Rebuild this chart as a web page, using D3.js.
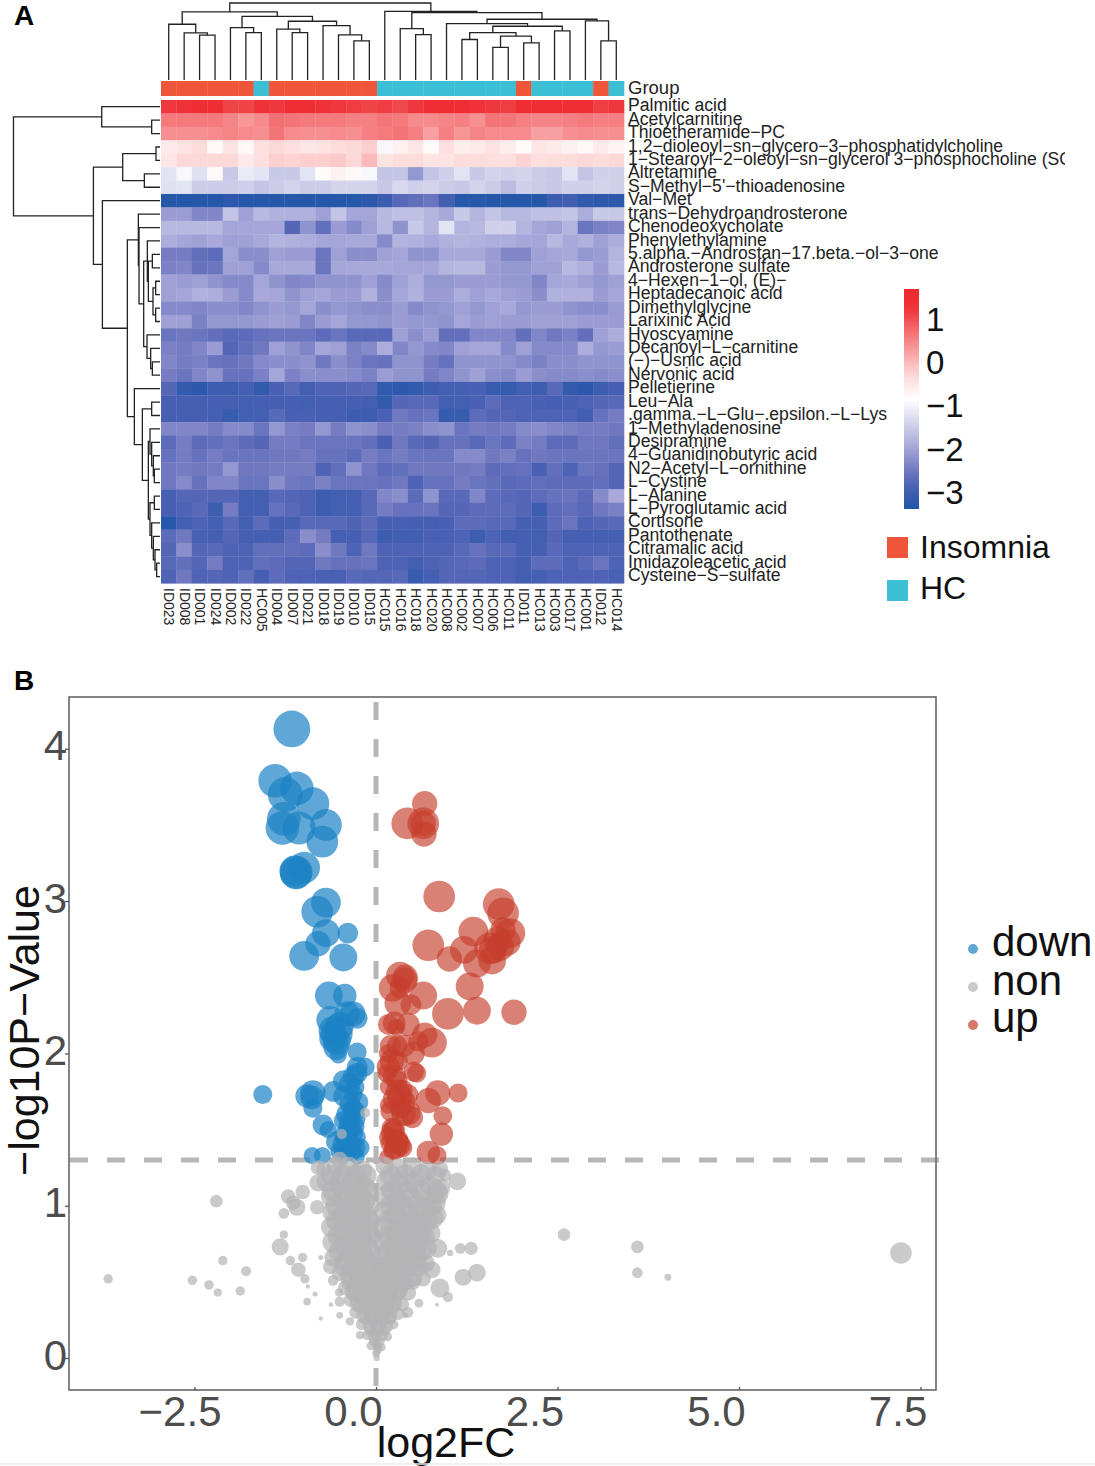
<!DOCTYPE html>
<html>
<head>
<meta charset="utf-8">
<script src="https://cdn.jsdelivr.net/npm/d3@7"></script>
<style>
  body { margin: 0; background: #fff; }
  text { font-family: "Liberation Sans", Arial, sans-serif; }
</style>
</head>
<body>
<script>
// panel A
var samples = ["ID023","ID008","ID001","ID024","ID002","ID022","HC005","ID004","ID007","ID021","ID018","ID019","ID010","ID015","HC015","HC016","HC018","HC020","HC008","HC002","HC007","HC006","HC011","ID011","HC013","HC003","HC017","HC001","ID012","HC014"];
var metabolites = ["Palmitic acid","Acetylcarnitine","Thioetheramide−PC","1,2−dioleoyl−sn−glycero−3−phosphatidylcholine","1−Stearoyl−2−oleoyl−sn−glycerol 3−phosphocholine (SOPC)","Altretamine","S−Methyl−5'−thioadenosine","Val−Met","trans−Dehydroandrosterone","Chenodeoxycholate","Phenylethylamine","5.alpha.−Androstan−17.beta.−ol−3−one","Androsterone sulfate","4−Hexen−1−ol, (E)−","Heptadecanoic acid","Dimethylglycine","Larixinic Acid","Hyoscyamine","Decanoyl−L−carnitine","(−)−Usnic acid","Nervonic acid","Pelletierine","Leu−Ala",".gamma.−L−Glu−.epsilon.−L−Lys","1−Methyladenosine","Desipramine","4−Guanidinobutyric acid","N2−Acetyl−L−ornithine","L−Cystine","L−Alanine","L−Pyroglutamic acid","Cortisone","Pantothenate","Citramalic acid","Imidazoleacetic acid","Cysteine−S−sulfate"];
var heatValues = [
[1.2,1.25,1.35,1.35,1.1,1.1,1.25,1.2,1.3,1.3,1.25,1.2,1.15,1.1,1.15,1.05,1.2,1.4,1.4,1.35,1.25,1.2,1.15,1.35,1.35,1.3,1.3,1.3,1.15,1.2],
[.6,.6,.6,.6,.5,.35,.45,.7,.65,.6,.6,.6,.55,.55,.65,.6,.45,.45,.5,.55,.4,.65,.65,.55,.5,.5,.55,.6,.55,.55],
[.4,.4,.4,.45,.5,.45,.4,.65,.45,.4,.4,.45,.4,.55,.6,.65,.55,.25,.55,.35,.5,.45,.45,.45,.25,.25,.4,.45,.4,.4],
[-.55,-.45,-.35,-.75,-.45,-.75,-.4,-.3,-.4,-.5,-.45,-.35,-.3,-.2,-.95,-.65,-.5,-.8,-.4,-.6,-.55,-.45,-.6,-.8,-.5,-.55,-.65,-.75,-.55,-.7],
[-.5,-.3,-.3,-.3,-.3,-.55,-.4,-.2,-.25,-.2,-.2,-.15,-.3,0,-.45,-.35,-.35,-.45,-.45,-.35,-.35,-.4,-.4,-.25,-.4,-.35,-.35,-.3,-.35,-.3],
[-1.2,-.95,-1.25,-.75,-1.55,-1.1,-1.2,-1.55,-1.55,-1.2,-.8,-.65,-.75,-.95,-1.6,-1.6,-2.15,-1.6,-1.45,-1.2,-1.55,-1.4,-1.45,-1.4,-1.5,-1.55,-1.2,-1.6,-1.45,-1.45],
[-1.25,-1.2,-1.5,-1.5,-1.5,-1.45,-1.6,-1.5,-1.4,-1.5,-1.5,-1.4,-1.4,-1.4,-1.55,-1.35,-1.45,-1.4,-1.5,-1.55,-1.4,-1.5,-1.7,-1.45,-1.5,-1.55,-1.45,-1.45,-1.4,-1.45],
[-3.3,-3.3,-3.3,-3.3,-3.25,-3.3,-3.3,-3.3,-3.3,-3.3,-3.3,-3.3,-3.3,-3.25,-3.05,-2.75,-2.65,-2.55,-3.0,-3.3,-3.3,-3.3,-3.3,-3.3,-3.3,-3.05,-3.0,-3.2,-3.25,-3.25],
[-2.1,-2.1,-2.35,-2.35,-1.6,-2.05,-1.75,-1.85,-1.85,-1.85,-2.05,-1.6,-2.0,-2.0,-1.75,-1.65,-1.65,-1.8,-1.95,-1.55,-1.8,-1.6,-1.75,-1.75,-1.65,-1.65,-1.6,-1.9,-1.55,-1.55],
[-1.75,-1.75,-1.75,-1.75,-2.0,-2.0,-2.0,-2.0,-2.8,-2.2,-2.65,-2.1,-2.3,-2.05,-1.75,-2.2,-1.55,-1.8,-1.2,-1.8,-1.75,-1.45,-1.45,-1.8,-2.0,-2.05,-1.8,-2.55,-2.4,-2.35],
[-1.9,-2.0,-2.05,-1.95,-2.05,-2.05,-1.95,-1.8,-1.85,-1.9,-2.0,-2.0,-1.95,-1.95,-2.3,-1.8,-1.85,-1.95,-1.85,-1.8,-1.85,-1.9,-1.9,-2.0,-2.0,-1.75,-1.95,-1.85,-2.05,-1.9],
[-2.45,-2.45,-2.65,-2.7,-2.0,-2.25,-2.25,-2.05,-2.1,-2.1,-2.55,-2.05,-2.25,-2.25,-2.05,-2.0,-2.2,-2.2,-1.95,-1.95,-1.95,-2.1,-2.35,-2.35,-2.05,-2.0,-1.95,-2.15,-2.1,-1.8],
[-2.4,-2.35,-2.6,-2.55,-2.05,-2.05,-2.3,-1.95,-1.95,-1.95,-2.55,-2.0,-1.95,-1.95,-1.95,-2.0,-2.0,-2.0,-1.8,-1.75,-1.75,-2.1,-2.15,-2.15,-2.05,-2.05,-1.75,-1.85,-2.1,-1.75],
[-2.05,-2.1,-2.05,-2.2,-2.3,-2.3,-2.0,-2.2,-2.35,-2.3,-2.2,-2.2,-2.2,-2.05,-2.3,-2.05,-1.9,-2.15,-2.15,-2.1,-2.1,-2.1,-2.15,-2.15,-2.35,-2.0,-1.95,-2.05,-2.15,-2.05],
[-2.05,-2.0,-1.85,-1.9,-2.1,-2.3,-1.95,-2.0,-2.2,-2.05,-2.0,-2.1,-2.1,-1.85,-2.25,-2.0,-1.85,-2.1,-2.1,-1.9,-2.05,-1.95,-2.05,-2.1,-2.25,-1.85,-1.85,-1.85,-2.1,-2.0],
[-2.3,-2.3,-2.35,-2.25,-2.25,-2.35,-2.2,-2.1,-2.15,-2.0,-2.25,-2.15,-2.2,-2.25,-2.25,-2.1,-2.3,-2.2,-2.15,-2.05,-2.15,-2.05,-1.95,-2.15,-2.1,-2.1,-2.2,-2.25,-2.25,-2.1],
[-2.05,-2.05,-2.4,-2.15,-2.15,-2.15,-2.1,-2.05,-2.1,-2.35,-2.1,-2.0,-2.15,-2.15,-2.2,-2.1,-2.15,-2.15,-2.2,-2.0,-2.1,-2.05,-2.1,-2.1,-2.05,-2.05,-2.05,-2.1,-2.1,-2.1],
[-2.55,-2.5,-2.55,-2.65,-2.75,-2.7,-2.6,-2.55,-2.55,-2.55,-2.7,-2.55,-2.75,-2.75,-2.75,-2.05,-2.25,-2.1,-2.65,-2.65,-2.35,-2.35,-2.35,-2.65,-2.35,-2.5,-2.4,-2.65,-2.05,-1.9],
[-2.4,-2.45,-2.35,-2.1,-2.8,-2.65,-2.5,-2.05,-2.2,-2.35,-2.0,-2.05,-2.4,-2.3,-1.9,-2.35,-2.15,-2.3,-2.35,-2.05,-2.0,-2.0,-2.3,-2.05,-2.3,-2.3,-2.3,-1.9,-2.15,-2.1],
[-2.35,-2.45,-2.4,-2.55,-2.6,-2.5,-2.3,-2.25,-2.25,-2.2,-2.5,-2.25,-2.4,-2.55,-2.6,-2.2,-2.2,-2.45,-2.6,-2.2,-2.2,-2.2,-2.2,-2.3,-2.4,-2.25,-2.25,-2.2,-2.2,-2.2],
[-2.45,-2.55,-2.35,-2.2,-2.6,-2.6,-2.4,-2.0,-2.4,-2.25,-2.25,-2.25,-2.3,-2.4,-2.1,-2.2,-2.2,-2.45,-2.35,-2.2,-2.05,-2.25,-2.3,-2.1,-2.25,-2.3,-2.3,-2.25,-2.3,-2.25],
[-2.8,-3.2,-3.25,-3.05,-3.05,-2.95,-3.2,-2.9,-2.75,-3.0,-2.85,-2.85,-2.8,-2.75,-3.2,-3.25,-3.2,-3.05,-3.0,-2.95,-2.9,-3.1,-3.15,-3.0,-3.05,-2.75,-3.2,-3.25,-3.05,-2.95],
[-2.95,-2.95,-2.95,-2.95,-2.95,-3.0,-2.95,-2.95,-2.95,-3.0,-2.95,-2.95,-2.95,-3.0,-3.2,-2.8,-2.75,-2.75,-3.0,-3.0,-2.9,-2.7,-2.85,-2.85,-2.9,-2.95,-2.9,-2.85,-2.8,-2.75],
[-2.95,-2.95,-2.95,-2.95,-3.1,-3.0,-3.0,-2.75,-2.9,-2.9,-2.95,-2.95,-3.05,-3.05,-2.9,-2.5,-2.6,-2.55,-3.15,-3.1,-2.7,-2.8,-2.8,-2.85,-2.85,-2.85,-2.85,-3.0,-2.6,-2.45],
[-2.35,-2.35,-2.35,-2.45,-2.3,-2.3,-2.55,-2.15,-2.4,-2.45,-2.15,-2.45,-2.2,-2.25,-2.45,-2.45,-2.4,-2.25,-2.2,-2.55,-2.45,-2.5,-2.45,-2.3,-2.25,-2.35,-2.4,-2.45,-2.45,-2.5],
[-2.7,-2.45,-2.7,-2.65,-2.55,-2.7,-2.8,-2.45,-2.45,-2.55,-2.55,-2.55,-2.55,-2.65,-2.9,-2.5,-2.75,-2.8,-2.6,-2.6,-2.75,-2.55,-2.7,-2.4,-2.45,-2.7,-2.7,-2.5,-2.5,-2.65],
[-2.6,-2.45,-2.6,-2.45,-2.55,-2.55,-2.55,-2.5,-2.5,-2.45,-2.6,-2.6,-2.7,-2.45,-2.55,-2.45,-2.55,-2.55,-2.55,-2.3,-2.3,-2.5,-2.4,-2.6,-2.5,-2.55,-2.55,-2.55,-2.55,-2.55],
[-2.5,-2.45,-2.5,-2.45,-2.15,-2.5,-2.5,-2.45,-2.45,-2.45,-2.85,-2.65,-2.2,-2.5,-2.7,-2.65,-2.5,-2.5,-2.5,-2.5,-2.45,-2.7,-2.65,-2.6,-2.9,-2.65,-2.85,-2.55,-2.6,-2.8],
[-2.5,-2.3,-2.6,-2.35,-2.35,-2.55,-2.55,-2.25,-2.5,-2.55,-2.4,-2.55,-2.55,-2.55,-2.6,-2.5,-2.85,-2.6,-2.6,-2.45,-2.55,-2.65,-2.75,-2.7,-2.65,-2.7,-2.7,-2.7,-2.65,-2.8],
[-2.95,-2.8,-2.8,-2.8,-2.8,-3.0,-3.0,-2.75,-2.8,-2.85,-3.05,-3.0,-2.95,-2.75,-2.35,-2.25,-2.7,-2.2,-2.75,-2.75,-2.35,-2.7,-2.75,-2.8,-2.7,-2.6,-2.55,-2.7,-2.3,-1.95],
[-2.95,-2.85,-2.75,-3.05,-2.45,-3.0,-3.0,-2.6,-2.75,-2.85,-3.05,-3.0,-3.0,-2.75,-2.45,-2.6,-2.6,-2.55,-2.8,-2.8,-2.7,-2.7,-2.7,-2.8,-3.05,-2.7,-2.65,-2.75,-2.5,-2.4],
[-3.3,-3.0,-2.85,-3.0,-2.75,-3.0,-2.7,-2.95,-2.95,-2.75,-2.75,-2.75,-2.85,-2.7,-2.95,-2.9,-2.95,-2.95,-2.9,-2.7,-2.7,-2.75,-2.75,-2.95,-2.95,-2.7,-2.55,-2.85,-2.8,-2.75],
[-2.7,-2.5,-2.9,-2.95,-2.8,-2.95,-2.95,-2.95,-2.7,-2.25,-2.45,-2.95,-2.95,-2.75,-3.05,-3.0,-3.0,-2.9,-2.9,-2.85,-3.05,-2.85,-3.0,-2.95,-3.0,-2.8,-2.95,-2.95,-2.95,-2.95],
[-2.8,-2.25,-2.8,-2.75,-2.85,-2.85,-2.65,-2.65,-2.65,-2.7,-2.25,-2.5,-2.85,-2.5,-2.85,-2.85,-2.85,-2.85,-2.85,-2.75,-2.6,-2.75,-2.75,-2.95,-2.95,-2.75,-2.85,-2.85,-2.85,-2.85],
[-2.75,-2.65,-2.8,-2.45,-2.85,-2.85,-2.65,-2.7,-2.8,-2.8,-2.5,-2.6,-2.6,-2.55,-2.85,-2.85,-3.0,-2.85,-2.8,-2.75,-2.7,-2.85,-2.85,-2.95,-2.7,-2.7,-2.85,-2.75,-2.55,-2.85],
[-2.85,-2.5,-2.85,-2.8,-2.85,-2.65,-2.95,-2.7,-2.85,-2.85,-2.9,-2.9,-2.75,-2.8,-2.8,-2.75,-3.15,-2.95,-2.8,-2.8,-2.8,-2.85,-2.85,-3.0,-2.95,-2.85,-2.85,-2.85,-2.85,-2.9]
];
var colorTicks = [1, 0, -1, -2, -3];
var groupNames = ["Insomnia", "HC"];

// dendrograms: [merge height, left, right], a plain number is a leaf index
var colTree = [232,
  [205, [168, 0, [142, 1, [135, 2, 3]]],
        [192, [158, 4, [143, 5, 6]],
              [177, [153, 7, [143, 8, 9]],
                    [164, 10, [136, 11, [118, 12, 13]]]]]],
  [207, 14,
        [203, [155, 15, [137, 16, 17]],
              [183, [170, 18,
                      [162, [143, [122, 19, 20], [132, [98, 21, 22], [112, 23, 24]]],
                            [148, 25, 26]]],
                    [178, 27, [118, 28, 29]]]]]];
var rowTree = [440,
  [175, 0, [25, 1, 2]],
  [200, [112, [12, 3, 4], [47, 5, 6]],
        [173, 7,
          [98, [65, 8, [63, 9, [49, [38, 10, [35, [23, 11, 12], [21, [13, 13, 14], [13, 15, 16]]]],
                                    [39, 17, [28, 18, [23, 19, 20]]]]]],
                [77, 21, [53, [25, 22, 23],
                              [35, [30, 24, [25, 25, [20, 26, [17, 27, 28]]]],
                                   [30, [17, 29, 30], [25, 31, [20, 32, [15, 33, [10, 34, 35]]]]]]]]]]]];

// panel B, each gene is [log2FC, -log10P, VIP]
var downGenes = [[-1.16,4.13,2.9],[-1.39,3.79,2.65],[-1.09,3.74,2.65],[-1.25,3.70,2.75],[-.87,3.64,2.6],[-1.27,3.54,2.65],[-.69,3.50,2.5],[-1.29,3.48,2.65],[-1.06,3.48,2.6],[-.74,3.39,2.5],[-.99,3.22,2.5],[-1.10,3.19,2.6],[-1.10,3.18,2.5],[-1.12,3.20,2.4],[-.69,2.99,2.35],[-.81,2.93,2.5],[-.69,2.79,2.2],[-.39,2.79,1.65],[-.80,2.72,2.0],[-.99,2.64,2.35],[-.45,2.63,2.2],[-1.56,1.73,1.5],[-.65,2.38,2.2],[-.43,2.38,1.85],[-.63,2.22,2.2],[-.32,2.26,2.0],[-.26,2.23,1.65],[-.40,2.26,2.0],[-.50,2.18,2.2],[-.54,2.13,2.5],[-.59,2.10,2.2],[-.54,2.08,2.2],[-.26,2.01,1.5],[-.52,1.99,1.35],[-.15,1.91,1.5],[-.26,1.91,1.65],[-.26,1.87,1.65],[-.45,1.82,1.65],[-.29,1.78,1.5],[-.59,1.75,1.65],[-.87,1.74,2.0],[-.88,1.71,1.85],[-.87,1.64,1.5],[-.25,1.68,1.65],[-.36,1.67,1.65],[-.32,1.63,1.6],[-.29,1.57,1.65],[-.36,1.56,1.65],[-.29,1.52,1.5],[-.36,1.50,1.65],[-.73,1.53,1.65],[-.66,1.50,1.35],[-.45,1.41,1.65],[-.29,1.38,1.65],[-.22,1.38,1.5],[-.40,1.35,1.5],[-.88,1.33,1.35],[-.74,1.33,1.35],[-.26,1.32,1.2],[-.43,1.46,1.65],[-.50,1.36,1.5],[-.45,1.56,1.5],[-.32,1.73,1.5],
[-.30,1.62,1.7],[-.40,1.6,1.7],[-.33,1.48,1.7],[-.40,1.45,1.7],[-.28,1.45,1.6],[-.36,1.40,1.7],[-.45,1.36,1.5],[-.33,1.36,1.6],[-.38,1.52,1.6],[-.55,2.04,2.0],[-.60,2.15,2.2],[-.44,1.72,1.7],[-.36,1.80,1.7],[-.31,1.85,1.7],[-.95,1.72,1.85],[-.55,1.42,1.6]];
var upGenes = [[.67,3.64,2.0],[.43,3.51,2.5],[.65,3.51,2.5],[.65,3.51,2.0],[.66,3.44,2.0],[.87,3.03,2.5],[1.69,2.98,2.5],[1.75,2.92,2.5],[1.34,2.80,2.35],[.72,2.71,2.5],[1.21,2.68,2.2],[1.01,2.62,2.0],[1.39,2.59,2.2],[1.85,2.79,2.35],[1.75,2.81,2.0],[1.67,2.74,2.2],[1.61,2.68,2.2],[1.57,2.69,2.5],[1.60,2.61,2.2],[1.80,2.73,2.2],[1.71,2.70,2.2],[.33,2.51,2.2],[.40,2.50,2.0],[1.29,2.44,2.2],[.23,2.43,2.2],[.40,2.48,2.0],[.33,2.43,1.65],[.65,2.38,2.2],[.99,2.26,2.5],[1.39,2.28,2.2],[1.90,2.27,2.0],[.48,2.32,1.65],[.17,2.19,1.65],[.44,2.19,1.85],[.28,2.17,1.35],[.67,2.12,2.0],[.77,2.07,2.35],[.29,2.05,1.65],[.17,2.0,1.5],[.51,2.0,1.85],[.17,1.91,1.85],[.15,1.87,1.5],[.56,1.87,1.5],[.29,1.82,1.65],[.17,1.78,1.35],[.33,1.71,2.0],[.44,1.73,1.65],[.85,1.74,2.0],[1.13,1.74,1.5],[.72,1.69,2.0],[.17,1.66,1.35],[.44,1.61,2.0],[.92,1.59,1.5],[.90,1.47,1.85],[.22,1.51,1.65],[.23,1.48,1.85],[.29,1.42,1.85],[.19,1.41,1.5],[.37,1.38,1.5],[.23,1.36,1.5],[.15,1.32,1.2],[.72,1.35,1.85],[.84,1.33,1.5],[.33,1.64,1.65],[.36,1.76,1.65],[.30,1.43,1.65],
[.25,1.85,1.8],[.30,1.75,1.9],[.25,1.7,1.8],[.2,1.62,1.6],[.38,1.68,1.9],[.22,1.95,1.9],[.30,1.95,1.6],[.38,2.05,1.8],[.52,1.88,1.6],[.27,1.38,1.8],[.33,1.40,1.7],[.25,1.50,1.7],[.18,1.45,1.6],[.58,2.08,1.6],[.3,2.33,2.1],[.2,2.05,1.7],[.25,2.2,1.8],[.38,1.6,1.9],[.5,1.58,1.7]];
var nonGenes = [
[-2.20,1.03,1],[-1.21,1.06,1.15],[-1.01,1.09,1.15],[-1.14,1.02,1.15],[-1.09,.99,1.35],[-.81,.99,1.15],[-1.27,.95,.85],[-1.27,.81,.65],[-1.32,.73,1.35],[-2.11,.64,.75],[-1.79,.57,.8],[-3.69,.52,.75],[-2.53,.51,.75],[-2.30,.48,.75],[-2.18,.43,.65],[-1.87,.44,.75],[-1.18,.64,.75],[-1.01,.66,.75],[-.76,.66,.4],[-1.07,.58,1.15],[-.98,.52,.75],[-.94,.47,.35],[-.84,.42,.4],[-.95,.37,.6],[-.62,.35,.35],[-.76,.26,.35],[-.50,.28,.55],[-.59,.51,.85],[-.63,.60,1.15],[-.51,.43,.65],[-.50,.37,.8],[-.36,.24,.65],[-.22,.15,.65],
[.85,.72,1.5],[1.02,.69,.5],[1.16,.72,.85],[1.31,.72,1.05],[1.20,.53,1.35],[1.39,.56,1.4],[.88,.46,1.5],[.99,.40,.8],[.59,.36,.7],[.84,.35,.3],[.44,.30,.85],[.40,.28,.45],[1.12,1.16,1.4],[.95,1.20,1.0],[.85,1.08,1.7],[.84,.94,1.5],[.77,.58,1.35],[2.59,.81,1.0],[3.60,.73,1.0],[3.60,.56,.85],[4.02,.53,.55],[7.23,.69,1.7],[-.80,1.25,1.15],[-.80,1.15,1.35],[-.15,1.61,.8],[-.47,1.47,.8],[-.50,1.30,1.3],
[-.72,1.24,1.2],[-.55,1.26,1.5],[-.38,1.25,1.7],[-.2,1.23,1.7],[.12,1.26,1.5],[.3,1.24,1.7],[.5,1.25,1.6],[.7,1.23,1.5],[.88,1.24,1.3],
[-.68,1.16,1.6],[-.5,1.14,1.7],[-.33,1.15,1.7],[-.17,1.13,1.7],[.15,1.16,1.7],[.33,1.14,1.7],[.52,1.15,1.7],[.75,1.13,1.6],[.9,1.12,1.4],
[-.62,1.06,1.6],[-.45,1.04,1.7],[-.3,1.05,1.7],[-.16,1.03,1.7],[.13,1.06,1.7],[.3,1.04,1.7],[.48,1.05,1.7],[.68,1.03,1.7],[.82,1.02,1.6],
[-.6,.96,1.6],[-.45,.94,1.7],[-.28,.95,1.7],[-.13,.93,1.7],[.12,.96,1.7],[.28,.94,1.7],[.45,.95,1.7],[.62,.93,1.7],[.78,.92,1.7],
[-.62,.86,1.6],[-.46,.84,1.7],[-.3,.85,1.7],[-.14,.83,1.7],[.1,.86,1.7],[.26,.84,1.7],[.42,.85,1.7],[.6,.83,1.7],[.75,.82,1.6],
[-.6,.76,1.6],[-.44,.74,1.7],[-.28,.75,1.7],[-.12,.73,1.7],[.1,.76,1.7],[.24,.74,1.7],[.4,.75,1.7],[.56,.73,1.7],[.7,.72,1.6],
[-.58,.66,1.5],[-.42,.64,1.7],[-.27,.65,1.7],[-.12,.63,1.7],[.09,.66,1.7],[.23,.64,1.7],[.38,.65,1.7],[.54,.63,1.7],[.68,.62,1.5],
[-.5,.56,1.3],[-.36,.54,1.6],[-.23,.55,1.7],[-.1,.53,1.7],[.06,.56,1.7],[.2,.54,1.7],[.33,.55,1.7],[.5,.53,1.6],[.65,.52,1.2],
[-.42,.46,1.2],[-.3,.44,1.5],[-.18,.45,1.7],[-.06,.43,1.7],[.06,.46,1.7],[.17,.44,1.7],[.3,.45,1.6],[.44,.43,1.3],
[-.35,.38,1.1],[-.24,.36,1.4],[-.12,.37,1.6],[0,.38,1.7],[.12,.36,1.6],[.24,.37,1.4],[.36,.35,1.1],
[-.28,.30,1.0],[-.16,.28,1.3],[-.05,.29,1.5],[.07,.30,1.5],[.18,.28,1.3],[.3,.29,1.0],
[-.2,.22,.9],[-.08,.21,1.2],[.03,.22,1.3],[.14,.21,1.1],[.24,.22,.8],
[-.12,.15,.8],[-.02,.14,1.0],[.08,.15,1.0],[.16,.14,.7],
[-.07,.08,.7],[.02,.08,.8],[.08,.07,.6],[0,.03,.6],
[-.62,1.2,1.6],[-.45,1.2,1.7],[-.28,1.2,1.7],[-.14,1.2,1.7],[.2,1.2,1.7],[.4,1.2,1.7],[.62,1.2,1.7],[.82,1.2,1.5],
[-.6,1.1,1.7],[-.42,1.1,1.7],[-.25,1.1,1.7],[-.12,1.1,1.7],[.22,1.1,1.7],[.42,1.1,1.7],[.62,1.1,1.7],[.84,1.1,1.6],
[-.55,1.0,1.7],[-.38,1.0,1.7],[-.22,1.0,1.7],[-.1,1.0,1.7],[.2,1.0,1.7],[.38,1.0,1.7],[.58,1.0,1.7],[.76,1.0,1.7],
[-.54,.9,1.7],[-.38,.9,1.7],[-.22,.9,1.7],[-.1,.9,1.7],[.18,.9,1.7],[.35,.9,1.7],[.52,.9,1.7],[.7,.9,1.7],
[-.52,.8,1.7],[-.36,.8,1.7],[-.2,.8,1.7],[-.08,.8,1.7],[.17,.8,1.7],[.32,.8,1.7],[.5,.8,1.7],[.66,.8,1.7],
[-.5,.7,1.7],[-.35,.7,1.7],[-.2,.7,1.7],[-.08,.7,1.7],[.16,.7,1.7],[.3,.7,1.7],[.46,.7,1.7],[.62,.7,1.7],
[-.44,.6,1.6],[-.3,.6,1.7],[-.17,.6,1.7],[-.06,.6,1.7],[.13,.6,1.7],[.27,.6,1.7],[.42,.6,1.7],[.58,.6,1.6],
[-.36,.5,1.4],[-.24,.5,1.6],[-.12,.5,1.7],[0,.5,1.7],[.11,.5,1.7],[.24,.5,1.7],[.37,.5,1.6],[.5,.5,1.3],
[-.3,.42,1.2],[-.18,.42,1.5],[-.06,.42,1.7],[.06,.42,1.7],[.18,.42,1.5],[.3,.42,1.2],
[-.22,.34,1.1],[-.1,.34,1.4],[.02,.34,1.6],[.13,.34,1.4],[.24,.34,1.1],
[-.14,.26,1.0],[-.03,.26,1.3],[.08,.26,1.3],[.19,.26,1.0],
[-.08,.18,.9],[.02,.18,1.1],[.12,.18,.9],
[-.03,.11,.8],[.05,.11,.8],[.02,.05,.7],[.01,0,.5]
];
var xTicks = [-2.5, 0, 2.5, 5, 7.5];
var yTicks = [0, 1, 2, 3, 4];
var volcanoGroups = ["down", "non", "up"];

var svg = d3.select("body").append("svg")
  .attr("width", 1095)
  .attr("height", 1466)
  .style("display", "block");

svg.append("text").attr("x", 14).attr("y", 25).attr("font-size", 28).attr("font-weight", "bold").text("A");
svg.append("text").attr("x", 14).attr("y", 690).attr("font-size", 28).attr("font-weight", "bold").text("B");

// heatmap
var heatColor = d3.scaleLinear()
  .domain([-3.4, -2.9, -2.5, -2, -0.85, -0.3, 0.3, 1.3, 1.7])
  .range(["#2056A8", "#4A60B4", "#7078C0", "#A4A5D8", "#ffffff", "#FDD8D8", "#F79A9C", "#EE2E32", "#EE2A2E"]);
var groupColor = d3.scaleOrdinal().domain(groupNames).range(["#EF5539", "#3BBFD5"]);

var xBand = d3.scaleBand().domain(d3.range(samples.length)).range([161, 624]);
var yBand = d3.scaleBand().domain(d3.range(metabolites.length)).range([100, 583.3]);

var blur = svg.append("filter").attr("id", "soft");
blur.append("feGaussianBlur").attr("stdDeviation", 0.5);

var rows = svg.append("g").attr("filter", "url(#soft)").selectAll("g")
  .data(heatValues)
  .join("g");
rows.selectAll("rect")
  .data(function(row, i) { return row.map(function(v, j) { return {i: i, j: j, v: v}; }); })
  .join("rect")
  .attr("x", function(d) { return xBand(d.j); })
  .attr("y", function(d) { return yBand(d.i); })
  .attr("width", xBand.bandwidth() + 0.3)
  .attr("height", yBand.bandwidth() + 0.3)
  .attr("fill", function(d) { return heatColor(d.v); });

// group strip
svg.append("g").selectAll("rect")
  .data(samples)
  .join("rect")
  .attr("x", function(d, i) { return xBand(i); })
  .attr("y", 81)
  .attr("width", xBand.bandwidth() + 0.3)
  .attr("height", 15)
  .attr("fill", function(d) { return groupColor(d.slice(0, 2) == "ID" ? "Insomnia" : "HC"); });

svg.append("text").attr("x", 628).attr("y", 93.5).attr("font-size", 18.5).attr("fill", "#222").text("Group");

svg.append("clipPath").attr("id", "labelClip").append("rect")
  .attr("x", 620).attr("y", 90).attr("width", 445).attr("height", 500);
svg.append("g").attr("clip-path", "url(#labelClip)").selectAll("text")
  .data(metabolites)
  .join("text")
  .attr("x", 628)
  .attr("y", function(d, i) { return yBand(i) + yBand.bandwidth() / 2 + 4.6; })
  .attr("font-size", 17.6)
  .attr("fill", "#222")
  .text(function(d) { return d; });

svg.append("g").selectAll("text")
  .data(samples)
  .join("text")
  .attr("transform", function(d, i) {
    return "translate(" + (xBand(i) + xBand.bandwidth() / 2 - 4.5) + ",588) rotate(90)";
  })
  .attr("font-size", 14)
  .attr("fill", "#222")
  .text(function(d) { return d; });

// dendrograms
function layoutTree(tree) {
  var root = d3.hierarchy(tree, function(d) { return Array.isArray(d) ? d.slice(1) : null; });
  root.eachAfter(function(n) {
    if (n.children) {
      n.pos = d3.mean(n.children, function(c) { return c.pos; });
      n.h = n.data[0];
    } else {
      n.pos = n.data + 0.5;
      n.h = 0;
    }
  });
  return root;
}

var colHeight = d3.scaleLinear().domain([0, 232]).range([80, 3]);
var rowHeight = d3.scaleLinear().domain([0, 440]).range([160, 13.5]);
var colPos = function(p) { return 161 + p * xBand.step(); };
var rowPos = function(p) { return 100 + p * yBand.step(); };
var link = d3.line();

var colNodes = layoutTree(colTree).descendants().filter(function(n) { return n.children; });
svg.append("g").selectAll("path")
  .data(colNodes)
  .join("path")
  .attr("fill", "none")
  .attr("stroke", "#222")
  .attr("stroke-width", 1.3)
  .attr("d", function(n) {
    var a = n.children[0], b = n.children[1];
    return link([[colPos(a.pos), colHeight(a.h)], [colPos(a.pos), colHeight(n.h)], [colPos(b.pos), colHeight(n.h)], [colPos(b.pos), colHeight(b.h)]]);
  });

var rowNodes = layoutTree(rowTree).descendants().filter(function(n) { return n.children; });
svg.append("g").selectAll("path")
  .data(rowNodes)
  .join("path")
  .attr("fill", "none")
  .attr("stroke", "#222")
  .attr("stroke-width", 1.3)
  .attr("d", function(n) {
    var a = n.children[0], b = n.children[1];
    return link([[rowHeight(a.h), rowPos(a.pos)], [rowHeight(n.h), rowPos(a.pos)], [rowHeight(n.h), rowPos(b.pos)], [rowHeight(b.h), rowPos(b.pos)]]);
  });

// colour bar
var barY = d3.scaleLinear().domain([1.7, -3.4]).range([289, 509]);
var barGrad = svg.append("defs").append("linearGradient")
  .attr("id", "barGrad").attr("x1", 0).attr("x2", 0).attr("y1", 0).attr("y2", 1);
barGrad.selectAll("stop")
  .data(d3.range(0, 1.001, 0.05))
  .join("stop")
  .attr("offset", function(d) { return d; })
  .attr("stop-color", function(d) { return heatColor(1.7 - d * 5.1); });
svg.append("rect").attr("x", 904).attr("y", 289).attr("width", 15).attr("height", 220).attr("fill", "url(#barGrad)");
svg.append("g").selectAll("text")
  .data(colorTicks)
  .join("text")
  .attr("x", 926)
  .attr("y", function(d) { return barY(d) + 12; })
  .attr("font-size", 33)
  .attr("fill", "#111")
  .text(function(d) { return d3.format("d")(d); });

// group legend
svg.append("g").selectAll("rect")
  .data(groupNames)
  .join("rect")
  .attr("x", 887)
  .attr("y", function(d, i) { return 537 + i * 43; })
  .attr("width", 21)
  .attr("height", 21)
  .attr("fill", function(d) { return groupColor(d); });
svg.append("g").selectAll("text")
  .data(groupNames)
  .join("text")
  .attr("x", 920)
  .attr("y", function(d, i) { return 558 + i * 41; })
  .attr("font-size", 32)
  .attr("fill", "#111")
  .text(function(d) { return d; });

// volcano
var x = d3.scaleLinear().domain([-4.229, 7.713]).range([69, 936]);
var y = d3.scaleLinear().domain([-0.21, 4.34]).range([1390, 697]);
var r = d3.scaleLinear().domain([0, 3]).range([0, 19]);
var volcanoColor = d3.scaleOrdinal().domain(volcanoGroups).range(["#1B82C5", "#B3B4B5", "#C63D2B"]);

svg.append("line")
  .attr("x1", x(0)).attr("x2", x(0)).attr("y1", 702).attr("y2", 1390)
  .attr("stroke", "#B5B6B6").attr("stroke-width", 5).attr("stroke-dasharray", "18 19");
svg.append("line")
  .attr("x1", 70).attr("x2", 940).attr("y1", y(1.3)).attr("y2", y(1.3))
  .attr("stroke", "#B5B6B6").attr("stroke-width", 5).attr("stroke-dasharray", "18 19");

function drawGenes(genes, group) {
  svg.append("g").selectAll("circle")
    .data(genes)
    .join("circle")
    .attr("cx", function(d) { return x(d[0]); })
    .attr("cy", function(d) { return y(d[1]); })
    .attr("r", function(d) { return r(d[2]); })
    .attr("fill", volcanoColor(group))
    .attr("fill-opacity", group == "up" ? 0.65 : 0.7);
}
drawGenes(downGenes, "down");
drawGenes(upGenes, "up");
drawGenes(nonGenes, "non");

svg.append("rect")
  .attr("x", 69).attr("y", 697).attr("width", 867).attr("height", 693)
  .attr("fill", "none").attr("stroke", "#666").attr("stroke-width", 1.6);

var xAxis = svg.append("g")
  .attr("transform", "translate(0,1390)")
  .call(d3.axisBottom(x).tickValues(xTicks).tickSize(-3).tickFormat(d3.format(".1f")));
xAxis.select(".domain").remove();
xAxis.selectAll("line").attr("stroke", "#555").attr("stroke-width", 1.3);
xAxis.selectAll("text")
  .attr("x", function(d) { return d < 0 ? -15 : -23; })
  .attr("y", 36)
  .attr("dy", 0)
  .attr("font-family", "Liberation Sans")
  .attr("font-size", 42)
  .attr("fill", "#4d4d4d");

var yAxis = svg.append("g")
  .attr("transform", "translate(69,0)")
  .call(d3.axisLeft(y).tickValues(yTicks).tickSize(4).tickFormat(d3.format("d")));
yAxis.select(".domain").remove();
yAxis.selectAll("line").attr("stroke", "#555").attr("stroke-width", 1.3);
yAxis.selectAll("text")
  .attr("x", -2)
  .attr("y", 11)
  .attr("dy", 0)
  .attr("font-family", "Liberation Sans")
  .attr("font-size", 42)
  .attr("fill", "#4d4d4d");

svg.append("text")
  .attr("x", 446).attr("y", 1457)
  .attr("text-anchor", "middle")
  .attr("font-size", 43)
  .attr("fill", "#111")
  .text("log2FC");
svg.append("text")
  .attr("transform", "translate(39,1030.5) rotate(-90)")
  .attr("text-anchor", "middle")
  .attr("font-size", 43)
  .attr("fill", "#111")
  .text("−log10P−Value");

// volcano legend
var legendRow = d3.scalePoint().domain(volcanoGroups).range([949, 1025]);
svg.append("g").selectAll("circle")
  .data(volcanoGroups)
  .join("circle")
  .attr("cx", 973)
  .attr("cy", function(d) { return legendRow(d); })
  .attr("r", 5)
  .attr("fill", function(d) { return volcanoColor(d); })
  .attr("fill-opacity", 0.7);
svg.append("g").selectAll("text")
  .data(volcanoGroups)
  .join("text")
  .attr("x", 992)
  .attr("y", function(d) { return legendRow(d) + (d == "down" ? 7 : d == "non" ? 8 : 7); })
  .attr("font-size", 42)
  .attr("fill", "#111")
  .text(function(d) { return d; });

svg.append("line")
  .attr("x1", 0).attr("x2", 1095).attr("y1", 1464).attr("y2", 1464)
  .attr("stroke", "#ececec").attr("stroke-width", 1.5);
</script>
</body>
</html>
